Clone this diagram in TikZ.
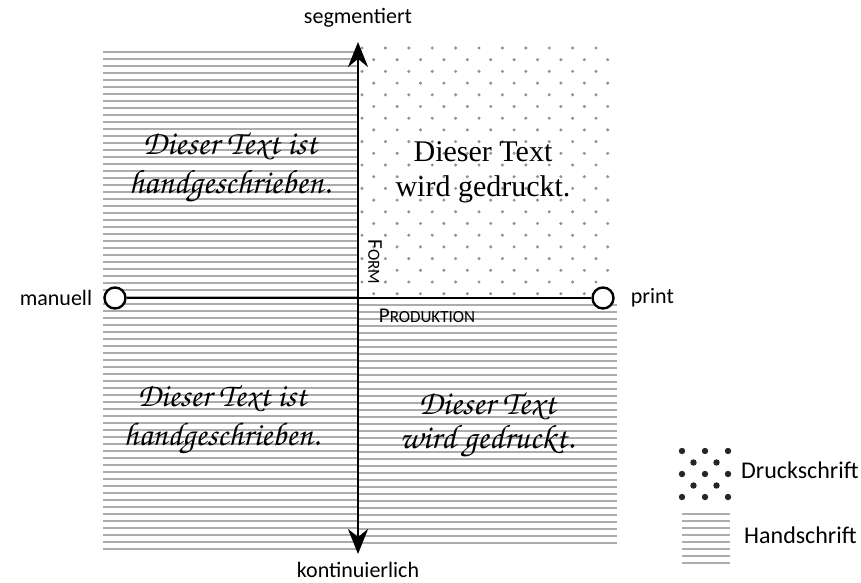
\documentclass[tikz,border=0pt]{standalone}
\usepackage[T1]{fontenc}
\usepackage{fontspec}
\setmainfont{Liberation Serif}
\newfontfamily\achsenfont{Carlito}
\usetikzlibrary{arrows.meta,positioning}
\newcommand\handschr{\fontencoding{T1}\fontfamily{pzc}\fontseries{mb}\fontshape{it}\selectfont}
\tikzset{
  achse/.style={line width=2.8pt},
  ring/.style={circle,draw,line width=2.4pt,fill=white,minimum size=21pt,inner sep=0pt},
  beschr/.style={font=\achsenfont\fontsize{22}{24}\selectfont,inner sep=1pt},
  linie/.style={gray!65,line width=1.2pt},
  punkt/.style={fill=gray!85},
}
\begin{document}
\begin{tikzpicture}[x=1pt,y=-1pt,>={Stealth[length=25pt,width=20pt]}]
\useasboundingbox (0,0) rectangle (861,582);
% Linienraster (Handschrift)
\foreach \y in {52,59,...,549} \draw[linie] (103,\y) -- (358,\y);
\foreach \y in {305,312,...,549} \draw[linie] (358,\y) -- (617,\y);
% Punktraster (Druckschrift)
\foreach \r in {0,...,21}
  \foreach \c in {0,...,10}
    \fill[punkt] ({362+23.4*\c+11.7*mod(\r,2)},{48+11.7*\r}) circle[radius=1.7pt];
% Achsen
\coordinate (oben) at (358,42);
\coordinate (unten) at (358,554);
\node[ring] (manuell) at (115,298) {};
\node[ring] (print) at (603,298) {};
\draw[achse] (manuell) -- (print);
\draw[achse,<->] (unten) -- (oben);
\node[beschr,left=10pt of manuell] (lmanuell) {manuell};
\node[beschr,right=15pt of print] (lprint) {print};
\node[beschr] (lseg) at (358,18) {segmentiert};
\node[beschr] (lkont) at (358,570) {kontinuierlich};
\node[beschr,rotate=-90] (lform) at (375,262) {\fontsize{21}{22}\selectfont F\fontsize{17}{18}\selectfont ORM};
\node[beschr] (lprod) at (427,316) {\fontsize{21}{22}\selectfont P\fontsize{17}{18}\selectfont RODUKTION};
% Beispieltexte
\node[align=center,font=\handschr\fontsize{34}{39}\selectfont] (hand1) at (230,168) {Dieser Text ist\\handgeschrieben.};
\node[align=center,font=\fontsize{30}{35}\selectfont] (druck1) at (483,172) {Dieser Text\\wird gedruckt.};
\node[align=center,font=\handschr\fontsize{33}{39}\selectfont] (hand2) at (222,420) {Dieser Text ist\\handgeschrieben.};
\node[align=center,font=\handschr\fontsize{34}{34}\selectfont] (hand3) at (487,425) {Dieser Text\\wird gedruckt.};
% Legende
\foreach \r in {0,2,4} \foreach \c in {0,1,2} \fill[punkt,fill=black!85] ({682+23*\c},{451+11.5*\r}) circle[radius=3.2pt];
\foreach \r in {1,3} \foreach \c in {0,1} \fill[punkt,fill=black!85] ({693.5+23*\c},{451+11.5*\r}) circle[radius=3.2pt];
\foreach \y in {514,521,...,563} \draw[linie] (682,\y) -- (730,\y);
\node[beschr,anchor=west,font=\achsenfont\fontsize{24}{26}\selectfont] (ldruck) at (740,470) {Druckschrift};
\node[beschr,anchor=west,font=\achsenfont\fontsize{24}{26}\selectfont] (lhand) at (743,535) {Handschrift};
\end{tikzpicture}
\end{document}
